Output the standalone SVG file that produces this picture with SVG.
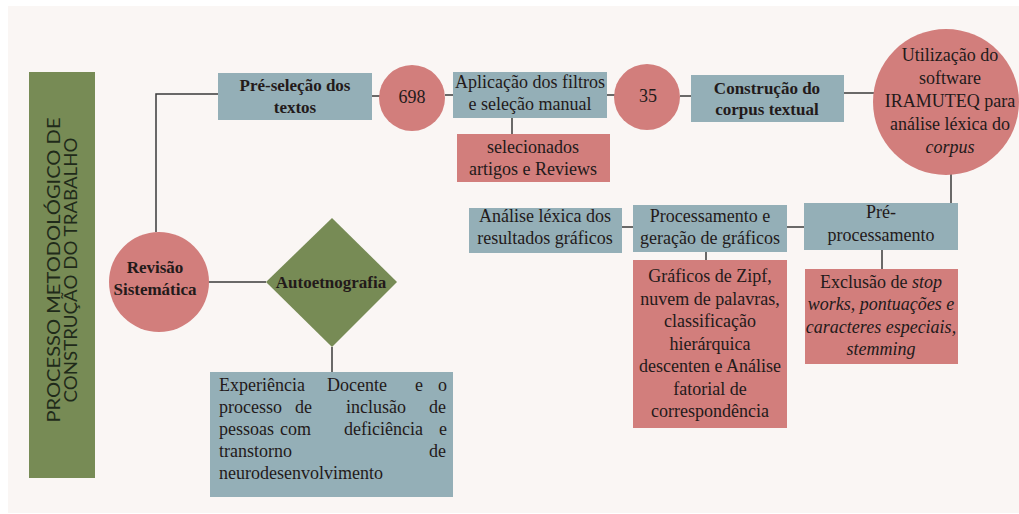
<svg xmlns="http://www.w3.org/2000/svg" width="1019" height="514" viewBox="0 0 1019 514">
<style>
.bg{fill:#ffffff}
.panel{fill:#faf6f4}
.blue{fill:#94afb7}
.pink{fill:#d27e7c}
.green{fill:#778b55}
.t{font-family:'Liberation Serif','DejaVu Serif','Noto Serif',serif;font-size:18px;fill:#231a1a;text-anchor:middle}
.b{font-weight:bold;font-size:17px}
.i{font-style:italic}
.j{font-family:'Liberation Serif','DejaVu Serif','Noto Serif',serif;font-size:18px;fill:#231a1a}
.v{font-family:Lato,'Open Sans',sans-serif;font-size:18px;fill:#1f2a1a;text-anchor:middle}
.c{stroke:#3a3a3a;stroke-width:1.5;fill:none}
</style>
<rect class="bg" x="0" y="0" width="1019" height="514"/>
<rect class="panel" x="8" y="6" width="1011" height="507"/>

<g id="connectors">
<polyline class="c" points="156,232 156,94 218,94"/>
<line class="c" x1="372" y1="96" x2="380" y2="96"/>
<line class="c" x1="445" y1="95" x2="453" y2="95"/>
<line class="c" x1="512" y1="118" x2="512" y2="134"/>
<line class="c" x1="607" y1="95" x2="615" y2="95"/>
<line class="c" x1="680" y1="96" x2="691" y2="96"/>
<line class="c" x1="844" y1="93" x2="874" y2="93"/>
<line class="c" x1="951" y1="174" x2="951" y2="203"/>
<line class="c" x1="882" y1="250" x2="882" y2="269"/>
<line class="c" x1="787" y1="227" x2="804" y2="227"/>
<line class="c" x1="706" y1="252" x2="706" y2="260"/>
<line class="c" x1="622" y1="227" x2="633" y2="227"/>
<line class="c" x1="208" y1="282" x2="266" y2="282"/>
<line class="c" x1="332" y1="347" x2="332" y2="372"/>
</g>

<g id="title-bar">
<rect class="green" x="29" y="72" width="66" height="406"/>
<g transform="translate(60,270) rotate(-90)">
<text class="v" x="0" y="0" textLength="305" lengthAdjust="spacingAndGlyphs">PROCESSO  METODOLÓGICO DE</text>
<text class="v" x="0" y="17" textLength="265" lengthAdjust="spacingAndGlyphs">CONSTRUÇÃO DO TRABALHO</text>
</g>
</g>

<g id="revisao">
<circle class="pink" cx="159" cy="282" r="50"/>
<text class="t b" x="155" y="273">Revisão</text>
<text class="t b" x="155" y="295">Sistemática</text>
</g>

<g id="preselecao">
<rect class="blue" x="218" y="73" width="154" height="47"/>
<text class="t b" x="295" y="91">Pré-seleção dos</text>
<text class="t b" x="295" y="113">textos</text>
</g>

<g id="n698">
<circle class="pink" cx="412" cy="98" r="33"/>
<text class="t" x="412" y="103">698</text>
</g>

<g id="aplicacao">
<rect class="blue" x="453" y="72" width="154" height="46"/>
<text class="t" x="530" y="88">Aplicação dos filtros</text>
<text class="t" x="530" y="110">e seleção manual</text>
</g>

<g id="selecionados">
<rect class="pink" x="457" y="134" width="153" height="48"/>
<text class="t" x="533" y="153">selecionados</text>
<text class="t" x="533" y="175">artigos e Reviews</text>
</g>

<g id="n35">
<circle class="pink" cx="647" cy="97" r="33"/>
<text class="t" x="648" y="102">35</text>
</g>

<g id="construcao">
<rect class="blue" x="691" y="75" width="153" height="47"/>
<text class="t b" x="767" y="94">Construção do</text>
<text class="t b" x="767" y="115">corpus textual</text>
</g>

<g id="iramuteq">
<circle class="pink" cx="946" cy="102" r="73"/>
<text class="t" x="950" y="61">Utilização do</text>
<text class="t" x="950" y="84">software</text>
<text class="t" x="950" y="107">IRAMUTEQ para</text>
<text class="t" x="950" y="130">análise léxica do</text>
<text class="t i" x="950" y="153">corpus</text>
</g>

<g id="preprocessamento">
<rect class="blue" x="804" y="203" width="154" height="47"/>
<text class="t" x="881" y="218">Pré-</text>
<text class="t" x="881" y="241">processamento</text>
</g>

<g id="exclusao">
<rect class="pink" x="805" y="269" width="153" height="95"/>
<text class="t" x="881" y="288">Exclusão de <tspan class="i">stop</tspan></text>
<text class="t i" x="881" y="310">works, pontuações e</text>
<text class="t i" x="881" y="333">caracteres especiais,</text>
<text class="t i" x="881" y="355">stemming</text>
</g>

<g id="processamento">
<rect class="blue" x="633" y="205" width="154" height="47"/>
<text class="t" x="710" y="222">Processamento e</text>
<text class="t" x="710" y="244">geração de gráficos</text>
</g>

<g id="graficos">
<rect class="pink" x="633" y="260" width="154" height="168"/>
<text class="t" x="710" y="282">Gráficos de Zipf,</text>
<text class="t" x="710" y="305">nuvem de palavras,</text>
<text class="t" x="710" y="327">classificação</text>
<text class="t" x="710" y="350">hierárquica</text>
<text class="t" x="710" y="372">descenten e Análise</text>
<text class="t" x="710" y="395">fatorial de</text>
<text class="t" x="710" y="417">correspondência</text>
</g>

<g id="analise">
<rect class="blue" x="469" y="208" width="153" height="45"/>
<text class="t" x="545" y="222">Análise léxica dos</text>
<text class="t" x="545" y="244">resultados gráficos</text>
</g>

<g id="autoetnografia">
<polygon class="green" points="332,218 397,282 332,347 266,282"/>
<text class="t b" x="331" y="288">Autoetnografia</text>
</g>

<g id="experiencia">
<rect class="blue" x="210" y="372" width="243" height="125"/>
<text class="j" y="391"><tspan x="219">Experiência</tspan><tspan x="327">Docente</tspan><tspan x="415">e</tspan><tspan x="438">o</tspan></text>
<text class="j" y="413"><tspan x="219">processo</tspan><tspan x="295">de</tspan><tspan x="346">inclusão</tspan><tspan x="429">de</tspan></text>
<text class="j" y="435"><tspan x="219">pessoas</tspan><tspan x="280">com</tspan><tspan x="344">deficiência</tspan><tspan x="439">e</tspan></text>
<text class="j" y="457"><tspan x="219">transtorno</tspan><tspan x="429">de</tspan></text>
<text class="j" y="479"><tspan x="219">neurodesenvolvimento</tspan></text>
</g>
</svg>
